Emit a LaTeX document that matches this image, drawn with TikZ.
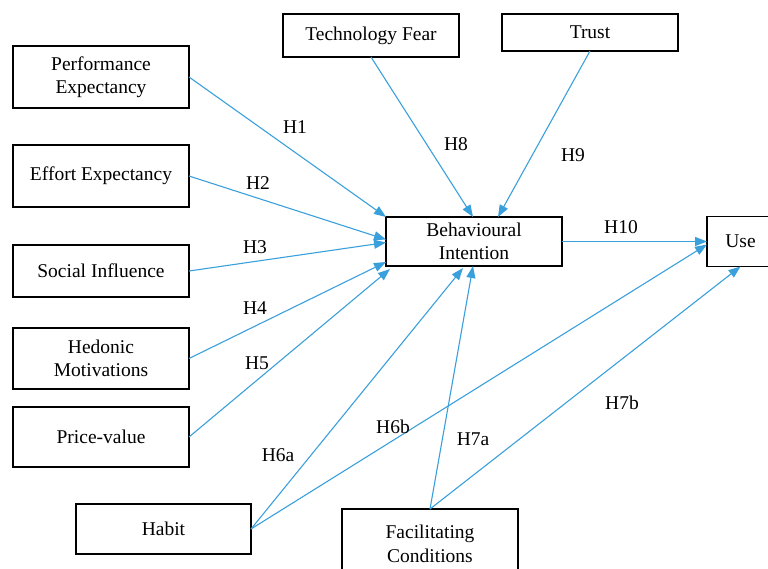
\documentclass[tikz,border=0pt]{standalone}
\usepackage{fontspec}
\setmainfont{Liberation Serif}
\usetikzlibrary{arrows.meta, positioning}
\definecolor{linkblue}{RGB}{58,160,220}

\begin{document}
\begin{tikzpicture}[
    x=1pt, y=-1pt,
    factor/.style={draw, line width=1.5pt, minimum width=176pt, inner sep=1pt,
                   outer sep=0pt, align=center, font=\fontsize{19.5}{23.5}\selectfont},
    hyp/.style={font=\fontsize{19.5}{23.5}\selectfont},
    link/.style={-{Triangle[length=12pt, width=9pt]}, line width=1.1pt, linkblue}
]
\clip (0,0) rectangle (768,568);
% left column of predictors
\node[factor, minimum height=62pt] (pe) at (101,77) {Performance\\Expectancy};
\node[factor, minimum height=62pt, below=37pt of pe] (ee) {Effort Expectancy};
\node[factor, minimum height=52pt, below=38pt of ee] (si) {Social Influence};
\node[factor, minimum height=61pt, below=31pt of si] (hm) {Hedonic\\Motivations};
\node[factor, minimum height=60pt, below=18pt of hm] (pv) {Price-value};
% top, centre and bottom
\node[factor, minimum height=43pt] (tf) at (371,35.5) {Technology Fear};
\node[factor, minimum height=37pt] (tr) at (590,32.5) {Trust};
\node[factor, minimum height=49pt] (bi) at (474,241.5) {Behavioural\\Intention};
\node[factor, minimum width=67pt, minimum height=50pt, right=145pt of bi] (use) {Use};
\node[factor, minimum width=175pt, minimum height=50pt] (hab) at (163.5,529) {Habit};
\node[factor, minimum height=70pt] (fc) at (430,544) {Facilitating\\Conditions};

\draw[link] (pe.east) -- (bi.north west);
\draw[link] (ee.east) -- ([yshift=2pt]bi.west);
\draw[link] (si.east) -- ([yshift=-1pt]bi.west);
\draw[link] (hm.east) -- ([yshift=4pt]bi.south west);
\draw[link] (pv.east) -- ([xshift=4pt, yshift=-3pt]bi.south west);
\draw[link] (hab.east) -- ([xshift=-11pt, yshift=-2pt]bi.south);
\draw[link] (hab.east) -- ([yshift=-3pt]use.west);
\draw[link] (fc.north) -- ([xshift=-1pt]bi.south);
\draw[link] (fc.north) -- (use.south);
\draw[link] (tf.south) -- ([xshift=-1pt]bi.north);
\draw[link] (tr.south) -- ([xshift=24pt]bi.north);
\draw[link] (bi.east) -- (use.west);

% hypothesis labels
\foreach \lx/\ly/\lab in {295/127/H1, 258/183/H2, 255/247/H3, 255/308/H4,
    257/363/H5, 278/455/H6a, 393/427/H6b, 473/439/H7a, 622/403/H7b,
    456/144/H8, 573/155/H9, 621/227/H10}
  \node[hyp] (lab\lab) at (\lx,\ly) {\lab};
\end{tikzpicture}
\end{document}
